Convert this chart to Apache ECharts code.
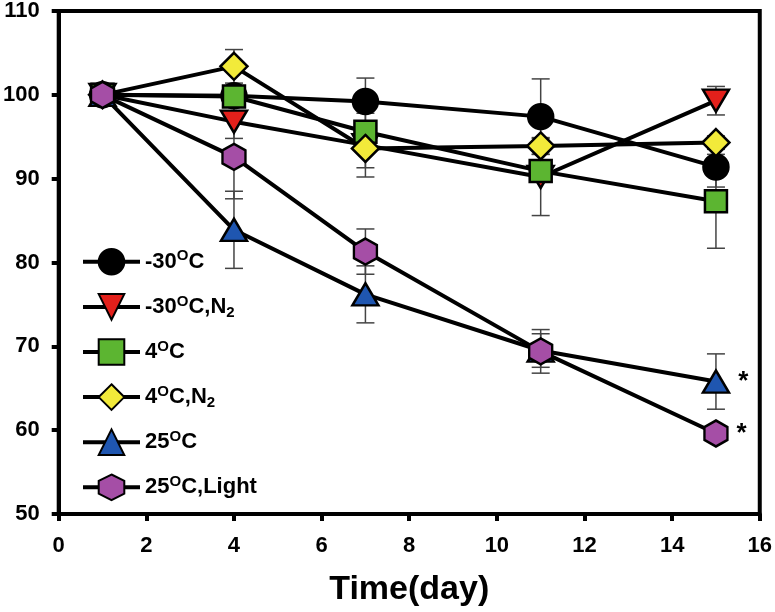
<!DOCTYPE html>
<html lang="en">
<head>
    <meta charset="UTF-8">
    <title>Time course</title>
    <script src="https://cdn.jsdelivr.net/npm/echarts@6/dist/echarts.min.js"></script>
    <style>
        html, body { margin: 0; padding: 0; background: #fff; }
    </style>
</head>
<body>
<div id="main" style="width: 775px;height:612px;"></div>
<script type="text/javascript">
    // sampling days
    var days = [1, 4, 7, 11, 15];
    // series values (%) and their error bars
    var m30 = [100, 99.9, 99.2, 97.4, 91.4];
    var m30Err = [0, 0.5, 2.8, 4.5, 2.4];
    var m30N2 = [100, 96.8, 94.0, 90.2, 99.3];
    var m30N2Err = [0, 2.0, 3.8, 4.6, 1.7];
    var c4 = [100, 99.8, 95.6, 90.9, 87.3];
    var c4Err = [0, 0.6, 0.5, 0.5, 5.6];
    var c4N2 = [100, 103.4, 93.6, 93.9, 94.3];
    var c4N2Err = [0, 2.0, 2.3, 1.0, 0.8];
    var c25 = [100, 83.9, 76.2, 69.5, 65.8];
    var c25Err = [0, 4.6, 3.4, 2.0, 3.3];
    var c25L = [100, 92.6, 81.3, 69.4, 59.6];
    var c25LErr = [0, 5.0, 2.7, 2.6, 0.5];
    var names = ['-30C', '-30C,N2', '4C', '4C,N2', '25C', '25C,Light'];
    var starred = ['25C', '25C,Light'];

    var hexagon = 'path://M0,-1 L0.866,-0.5 L0.866,0.5 L0,1 L-0.866,0.5 L-0.866,-0.5 Z';
    var downTri = 'path://M0,0 L2,0 L1,1.7 Z';

    var groups = [
        {name: names[0], v: m30, e: m30Err, symbol: 'circle', size: 25, color: '#000000'},
        {name: names[1], v: m30N2, e: m30N2Err, symbol: downTri, size: [26, 22], color: '#e3201b'},
        {name: names[2], v: c4, e: c4Err, symbol: 'rect', size: 22, color: '#5cb531'},
        {name: names[3], v: c4N2, e: c4N2Err, symbol: 'diamond', size: 27, color: '#f2ea3a'},
        {name: names[4], v: c25, e: c25Err, symbol: 'triangle', size: [26, 22], color: '#1f56b0'},
        {name: names[5], v: c25L, e: c25LErr, symbol: hexagon, size: [23, 26], color: '#a54ea6'}
    ];

    var legendText = {
        '-30C': '{n|-30}{s|O}{n|C}',
        '-30C,N2': '{n|-30}{s|O}{n|C,N}{b|2}',
        '4C': '{n|4}{s|O}{n|C}',
        '4C,N2': '{n|4}{s|O}{n|C,N}{b|2}',
        '25C': '{n|25}{s|O}{n|C}',
        '25C,Light': '{n|25}{s|O}{n|C,Light}'
    };

    var series = [];
    var errData = [];
    groups.forEach(function (g) {
        var pts = [];
        for (var i = 0; i < days.length; i++) {
            pts.push([days[i], g.v[i]]);
            if (g.e[i] > 0) errData.push([days[i], g.v[i], g.e[i]]);
        }
        series.push({
            name: g.name,
            type: 'line',
            data: pts,
            symbol: g.symbol,
            symbolSize: g.size,
            showAllSymbol: true,
            z: 3,
            lineStyle: {color: '#000', width: 4},
            itemStyle: {color: g.color, borderColor: '#000', borderWidth: 2.5, opacity: 1},
            label: {
                show: starred.indexOf(g.name) >= 0,
                position: 'right',
                distance: 8,
                color: '#000',
                fontSize: 26,
                fontWeight: 'bold',
                fontFamily: 'Liberation Sans',
                formatter: function (p) { return p.dataIndex === days.length - 1 ? '*' : ''; }
            },
            emphasis: {disabled: true},
            animation: false
        });
    });

    series.unshift({
        name: 'err',
        type: 'custom',
        z: 1,
        data: errData,
        renderItem: function (params, api) {
            var x = api.value(0), y = api.value(1), e = api.value(2);
            var hi = api.coord([x, y + e]);
            var lo = api.coord([x, y - e]);
            var w = 9;
            var st = {stroke: '#444', lineWidth: 1.5};
            return {
                type: 'group',
                children: [
                    {type: 'line', shape: {x1: hi[0], y1: hi[1], x2: lo[0], y2: lo[1]}, style: st},
                    {type: 'line', shape: {x1: hi[0] - w, y1: hi[1], x2: hi[0] + w, y2: hi[1]}, style: st},
                    {type: 'line', shape: {x1: lo[0] - w, y1: lo[1], x2: lo[0] + w, y2: lo[1]}, style: st}
                ]
            };
        },
        animation: false
    });

    var txt = {fontWeight: 'bold', fontFamily: 'Liberation Sans', color: '#000'};
    var myChart = echarts.init(document.getElementById('main'));
    myChart.setOption({
        backgroundColor: '#fff',
        animation: false,
        grid: {left: 58, right: 15, top: 11, bottom: 95, show: true, borderColor: '#000', borderWidth: 4},
        legend: {
            data: names,
            orient: 'vertical',
            left: 76,
            top: 243,
            itemWidth: 57,
            itemHeight: 32,
            itemGap: 17.5,
            lineStyle: {width: 4, color: '#000'},
            formatter: function (name) { return legendText[name]; },
            textStyle: {
                rich: {
                    n: Object.assign({fontSize: 22}, txt),
                    s: Object.assign({fontSize: 15, verticalAlign: 'bottom', padding: [0, 0, 11, 0]}, txt),
                    b: Object.assign({fontSize: 15, verticalAlign: 'top', padding: [11, 0, 0, 0]}, txt)
                }
            }
        },
        xAxis: {
            type: 'value',
            min: 0,
            max: 16,
            interval: 2,
            name: 'Time(day)',
            nameLocation: 'middle',
            nameGap: 59,
            nameTextStyle: Object.assign({fontSize: 34}, txt),
            axisLine: {lineStyle: {color: '#000', width: 4}},
            axisTick: {length: 7, lineStyle: {color: '#000', width: 4}},
            axisLabel: Object.assign({fontSize: 22, margin: 21}, txt),
            splitLine: {show: false}
        },
        yAxis: {
            type: 'value',
            min: 50,
            max: 110,
            interval: 10,
            axisLine: {show: true, lineStyle: {color: '#000', width: 4}},
            axisTick: {show: true, length: 7, lineStyle: {color: '#000', width: 4}},
            axisLabel: Object.assign({fontSize: 22, margin: 19}, txt),
            splitLine: {show: false}
        },
        series: series
    });
</script>
</body>
</html>
